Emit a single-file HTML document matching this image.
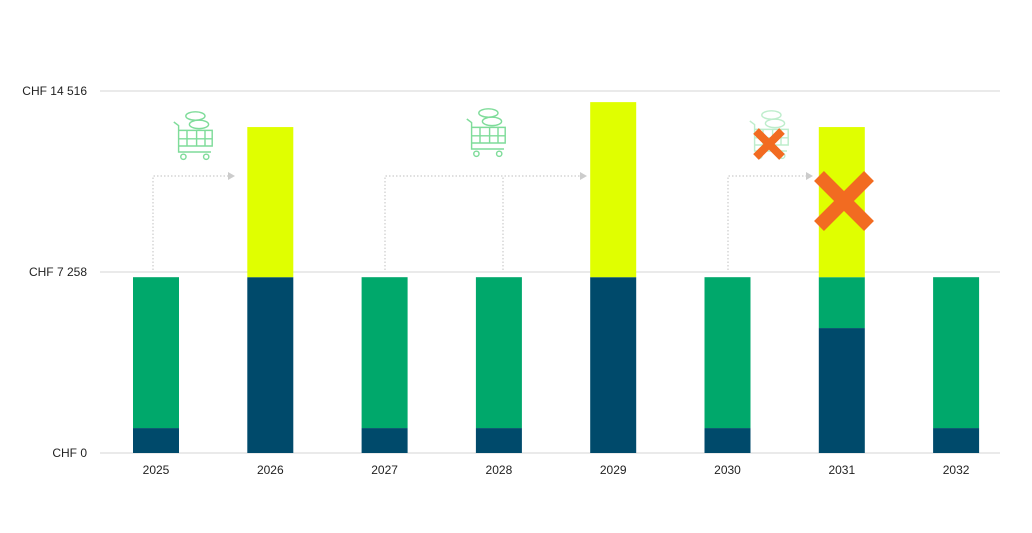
<!DOCTYPE html>
<html><head><meta charset="utf-8"><style>
body{margin:0;background:#fff;}
svg{display:block;font-family:"Liberation Sans",sans-serif;}
</style></head><body>
<svg id="chart" width="1032" height="533" viewBox="0 0 1032 533">
<g id="grid"></g>
<g id="conn"></g>
<g id="bars"></g>
<g id="icons"></g>
<g id="labels"></g>
</svg>
<script>
const categories=["2025","2026","2027","2028","2029","2030","2031","2032"];
const baseVals=[1000,7050,1000,1000,7050,1000,5010,1000];
const midVals=[6050,0,6050,6050,0,6050,2040,6050];
const topVals=[0,6020,0,0,7020,0,6020,0];
const yTicks=[0,7258,14516];
const yTickLabels=["CHF 0","CHF 7 258","CHF 14 516"];
const NS="http://www.w3.org/2000/svg";
const y0=453,yMax=14516,yTopPx=91;
function y(v){return y0-(v/yMax)*(y0-yTopPx);}
function xc(i){return 156+i*114.3;}
const bw=46;
function mk(tag,attrs,parent){const e=document.createElementNS(NS,tag);for(const k in attrs)e.setAttribute(k,attrs[k]);parent.appendChild(e);return e;}
const grid=document.getElementById('grid'),bars=document.getElementById('bars'),labels=document.getElementById('labels'),conn=document.getElementById('conn'),icons=document.getElementById('icons');
yTicks.forEach((t,i)=>{
 const l=mk('line',{x1:100,x2:1000,y1:y(t),y2:y(t),stroke:'#d4d4d4','stroke-width':1},grid);
 
 
 const tx=mk('text',{x:87,y:y(t)+4,'text-anchor':'end','font-size':12,fill:'#222'},labels);
 tx.textContent=yTickLabels[i];
 
 
});
categories.forEach((c,i)=>{
 const x=xc(i)-bw/2;
 let acc=0;
 [[baseVals,'#004a6b'],[midVals,'#00a86b'],[topVals,'#e0ff00']].forEach(([arr,col],s)=>{
  const v=arr[i]; if(v<=0)return;
  const r=mk('rect',{x:x,y:y(acc+v),width:bw,height:y(acc)-y(acc+v),fill:col},bars);
  
  
  acc+=v;
 });
 const tx=mk('text',{x:xc(i),y:474,'text-anchor':'middle','font-size':12,fill:'#222'},labels);
 tx.textContent=c;
 
 
});
const ds={stroke:'#ccc','stroke-width':1.2,'stroke-dasharray':'1.5 2',fill:'none'};
function path(d){const p=mk('path',Object.assign({d:d},ds),conn);}
function arrow(x,yy){const p=mk('path',{d:`M${x-7} ${yy-4}L${x} ${yy}L${x-7} ${yy+4}Z`,fill:'#ccc'},conn);}
path('M153 270V176H228');arrow(235,176);
path('M385 270V176H580');path('M503 270V176');arrow(587,176);
path('M728 270V176H806');arrow(813,176);
function cart(cx,cy,op){
 const g=mk('g',{transform:`translate(${cx},${cy}) scale(1.2)`,stroke:'#7fdc9a','stroke-width':1.2,fill:'none',opacity:op},icons);
 
 
 mk('ellipse',{cx:2,cy:-20,rx:8,ry:3.5},g);
 mk('ellipse',{cx:5,cy:-13,rx:8,ry:3.5},g);
 mk('path',{d:'M-16 -15L-12 -12V10H15 M-12 -8H16V5H-12 M-12 -1H16 M-5 -8V5 M3 -8V5 M10 -8V5'},g);
 mk('circle',{cx:-8,cy:14,r:2.2},g);mk('circle',{cx:11,cy:14,r:2.2},g);
}
cart(193,140,1);cart(486,137,1);cart(769,139,0.5);
function xmark(cx,cy,s,w,name){
 const p=mk('path',{d:`M${cx-s} ${cy-s}L${cx+s} ${cy+s}M${cx+s} ${cy-s}L${cx-s} ${cy+s}`,stroke:'#f26b21','stroke-width':w,'stroke-linecap':'butt'},icons);
 
 
}
xmark(769,144,13,8,'small-x-mark');
xmark(844,201,25,14,'big-x-mark');
</script>
</body></html>
